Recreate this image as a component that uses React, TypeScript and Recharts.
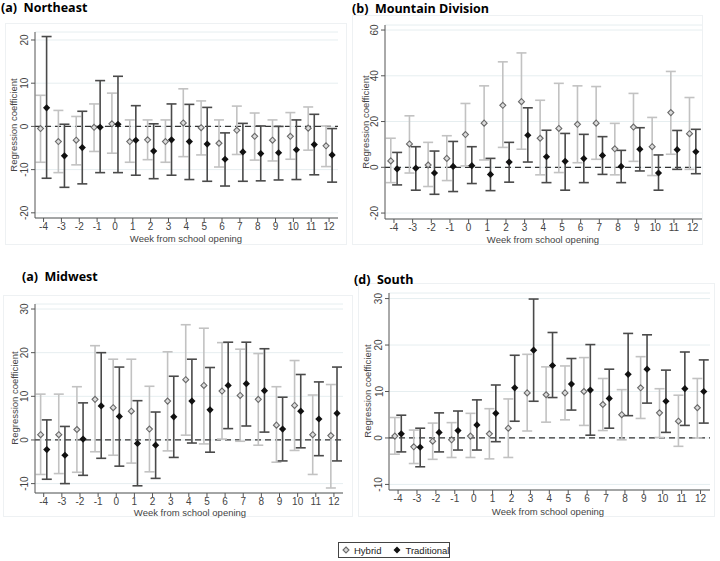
import React from 'react'
import { ScatterChart, Scatter, XAxis, YAxis, CartesianGrid, ReferenceLine, ErrorBar } from 'recharts'

const weeks = [-4, -3, -2, -1, 0, 1, 2, 3, 4, 5, 6, 7, 8, 9, 10, 11, 12]

// (a) Northeast
const neHybrid = [-0.5, -3.5, -3.2, -0.2, 0.6, -3.5, -3.1, -3.5, 0.8, -0.3, -3.9, -0.9, -2.3, -3.2, -2.3, -0.4, -4.5]
const neHybridLo = [-8.3, -10.7, -8.9, -5.8, -6.2, -8.3, -7.7, -8.3, -7.0, -6.6, -9.4, -6.5, -7.8, -8.0, -7.6, -5.5, -9.3]
const neHybridHi = [7.2, 3.7, 2.3, 5.2, 7.7, 1.5, 1.5, 1.5, 8.7, 5.9, 1.5, 4.7, 3.1, 1.5, 3.2, 4.5, 0.1]
const neTrad = [4.3, -6.8, -4.9, -0.2, 0.5, -3.2, -5.7, -3.1, -3.5, -4.1, -7.6, -5.9, -6.3, -6.1, -5.4, -4.2, -6.6]
const neTradLo = [-12.0, -14.1, -13.3, -10.7, -10.7, -11.3, -12.1, -11.3, -12.3, -12.7, -13.8, -12.7, -12.6, -12.4, -12.3, -11.2, -12.9]
const neTradHi = [20.8, 0.5, 3.5, 10.6, 11.6, 4.8, 0.6, 5.2, 5.1, 4.4, -1.5, 0.7, 0.1, 0.0, 1.5, 2.8, -0.5]

// (b) Mountain Division
const mdHybrid = [2.8, 10.2, 1.0, 3.9, 14.3, 19.3, 27.1, 28.7, 12.7, 17.0, 18.8, 19.3, 8.1, 17.6, 9.0, 23.9, 14.7]
const mdHybridLo = [-6.7, -2.5, -8.4, -5.8, 0.6, 3.2, 8.7, 7.9, -3.3, -2.3, 2.0, 3.5, -3.3, 2.6, -3.6, 5.7, -0.9]
const mdHybridHi = [12.7, 22.5, 10.9, 13.8, 27.9, 35.6, 46.1, 50.0, 29.3, 36.7, 35.6, 35.3, 19.2, 32.3, 21.8, 41.9, 30.5]
const mdTrad = [-0.7, -0.4, -2.5, 0.4, 0.7, -3.1, 2.3, 14.0, 4.6, 2.6, 3.8, 5.2, 0.4, 7.9, -2.5, 7.7, 6.8]
const mdTradLo = [-7.7, -10.0, -11.8, -10.6, -7.1, -10.2, -6.5, 2.3, -6.7, -10.0, -6.7, -3.1, -6.7, -1.6, -10.0, -0.9, -2.8]
const mdTradHi = [6.5, 9.0, 7.1, 11.3, 9.0, 3.9, 10.9, 26.0, 16.2, 14.8, 14.4, 13.4, 7.4, 17.3, 5.4, 16.1, 16.6]

// (a) Midwest
const mwHybrid = [1.2, 1.2, 2.4, 9.3, 7.4, 6.6, 2.5, 8.9, 13.8, 12.5, 11.2, 10.2, 9.3, 3.4, 7.9, 1.2, 1.0]
const mwHybridLo = [-7.9, -7.7, -7.4, -2.7, -3.5, -5.3, -7.3, -2.5, 1.1, -0.9, 0.2, -0.3, -1.2, -5.1, -2.4, -7.9, -11.0]
const mwHybridHi = [10.5, 10.5, 12.2, 21.6, 18.5, 18.5, 12.3, 20.2, 26.4, 25.6, 22.3, 20.8, 19.8, 12.2, 18.2, 10.3, 12.7]
const mwTrad = [-2.2, -3.5, 0.2, 7.8, 5.4, -0.8, -1.2, 5.3, 8.9, 6.9, 12.5, 12.9, 11.3, 2.5, 6.6, 4.8, 6.1]
const mwTradLo = [-9.0, -10.0, -8.1, -4.2, -6.0, -10.5, -8.8, -4.0, -0.7, -2.8, 2.6, 3.2, 1.8, -4.8, -1.8, -3.6, -4.8]
const mwTradHi = [4.6, 3.1, 8.5, 20.0, 16.7, 9.0, 6.4, 14.6, 18.5, 16.6, 22.4, 22.4, 20.9, 9.8, 15.0, 13.3, 16.7]

// (d) South
const soHybrid = [0.4, -1.9, -0.7, -0.4, 0.4, 0.9, 2.1, 9.7, 9.3, 9.7, 10.0, 7.2, 5.0, 10.8, 5.4, 3.6, 6.5]
const soHybridLo = [-3.5, -5.5, -4.6, -4.2, -4.2, -4.5, -4.2, 1.5, 3.4, 3.9, 2.7, 1.6, -0.4, 4.2, 0.1, -1.8, 0.0]
const soHybridHi = [4.4, 1.7, 3.2, 3.3, 5.3, 6.3, 8.4, 18.0, 15.3, 15.5, 17.3, 12.8, 10.4, 17.5, 10.6, 9.2, 12.8]
const soTrad = [0.9, -2.0, 1.2, 1.6, 2.8, 5.3, 10.8, 18.9, 15.6, 11.6, 10.3, 8.5, 13.7, 14.8, 7.9, 10.6, 10.0]
const soTradLo = [-3.0, -6.2, -3.0, -2.6, -2.6, -0.8, 3.6, 7.9, 8.7, 6.0, 0.6, 2.1, 4.8, 7.5, 1.2, 2.7, 3.2]
const soTradHi = [4.9, 2.1, 5.4, 5.8, 8.2, 11.4, 17.8, 29.9, 22.7, 17.1, 20.1, 14.8, 22.5, 22.2, 14.6, 18.5, 16.8]

const font = "'Liberation Sans', Arial, sans-serif"
const OFFSET = 0.17

function toRows(vals: number[], lo: number[], hi: number[], shift: number) {
  return weeks.map((w, i) => ({
    x: w + shift,
    y: vals[i],
    err: [vals[i] - lo[i], hi[i] - vals[i]]
  }))
}

const HybridDot = (props: any) => {
  const { cx, cy } = props
  const r = 3
  return (
    <path
      d={`M${cx},${cy - r} L${cx + r},${cy} L${cx},${cy + r} L${cx - r},${cy} Z`}
      fill="#dcdcdc"
      stroke="#6a6a6a"
      strokeWidth={1.1}
    />
  )
}

const TradDot = (props: any) => {
  const { cx, cy } = props
  const r = 3.6
  return <path d={`M${cx},${cy - r} L${cx + r},${cy} L${cx},${cy + r} L${cx - r},${cy} Z`} fill="#111" />
}

const YTick = (props: any) => {
  const { x, y, payload } = props
  return (
    <text
      x={x}
      y={y}
      transform={`rotate(-90 ${x} ${y})`}
      textAnchor="middle"
      dominantBaseline="central"
      fontSize={10}
      fill="#444"
      fontFamily={font}
    >
      {payload.value}
    </text>
  )
}

interface PanelProps {
  title: string
  titlePos: { left: number; top: number }
  box: { left: number; top: number; width: number; height: number }
  margin: { top: number; right: number; left: number; bottom: number }
  yWidth: number
  yDomain: [number, number]
  yTicks: number[]
  hybrid: number[]
  hybridLo: number[]
  hybridHi: number[]
  trad: number[]
  tradLo: number[]
  tradHi: number[]
  yLabelPos: { left: number; top: number }
  xLabelPos: { left: number; top: number }
  frame: { left: number; top: number; width: number; height: number }
}

function Panel(p: PanelProps) {
  const hybridRows = toRows(p.hybrid, p.hybridLo, p.hybridHi, -OFFSET)
  const tradRows = toRows(p.trad, p.tradLo, p.tradHi, OFFSET)
  return (
    <>
      <div
        style={{
          position: 'absolute',
          left: p.frame.left,
          top: p.frame.top,
          width: p.frame.width,
          height: p.frame.height,
          border: '1px solid #eef1f3',
          boxSizing: 'border-box'
        }}
      />
      <div
        style={{
          position: 'absolute',
          left: p.titlePos.left,
          top: p.titlePos.top,
          fontFamily: "'Open Sans', sans-serif",
          fontWeight: 700,
          fontSize: 12.5,
          whiteSpace: 'pre',
          color: '#000',
          lineHeight: '15px'
        }}
      >
        {p.title}
      </div>
      <div style={{ position: 'absolute', left: p.box.left, top: p.box.top }}>
        <ScatterChart width={p.box.width} height={p.box.height} margin={p.margin}>
          <CartesianGrid horizontal vertical={false} stroke="#e6eef0" strokeWidth={1} />
          <XAxis
            type="number"
            dataKey="x"
            domain={[-4.48, 12.5]}
            ticks={weeks}
            allowDataOverflow
            height={30}
            tickSize={4}
            tickMargin={1}
            stroke="#555"
            tick={{ fontSize: 10, fill: '#444', fontFamily: font }}
          />
          <YAxis
            type="number"
            dataKey="y"
            domain={p.yDomain}
            ticks={p.yTicks}
            allowDataOverflow
            width={p.yWidth}
            tickSize={4}
            tickMargin={6}
            stroke="#555"
            tick={<YTick />}
          />
          <ReferenceLine y={0} stroke="#333" strokeDasharray="6 4" strokeWidth={1.2} />
          <Scatter data={hybridRows} shape={<HybridDot />} isAnimationActive={false}>
            <ErrorBar dataKey="err" direction="y" width={5} stroke="#c2c2c2" strokeWidth={1.6} />
          </Scatter>
          <Scatter data={tradRows} shape={<TradDot />} isAnimationActive={false}>
            <ErrorBar dataKey="err" direction="y" width={5} stroke="#4a4a4a" strokeWidth={1.6} />
          </Scatter>
        </ScatterChart>
      </div>
      <div
        style={{
          position: 'absolute',
          left: p.yLabelPos.left,
          top: p.yLabelPos.top,
          transform: 'translate(-50%, -50%) rotate(-90deg)',
          fontFamily: font,
          fontSize: 9.5,
          lineHeight: '11px',
          color: '#444',
          whiteSpace: 'nowrap'
        }}
      >
        Regression coefficient
      </div>
      <div
        style={{
          position: 'absolute',
          left: p.xLabelPos.left,
          top: p.xLabelPos.top,
          transform: 'translate(-50%, -50%)',
          fontFamily: font,
          fontSize: 9.5,
          lineHeight: '11px',
          color: '#444',
          whiteSpace: 'nowrap'
        }}
      >
        Week from school opening
      </div>
    </>
  )
}

export default function App() {
  return (
    <div
      style={{
        position: 'absolute',
        left: 0,
        top: 0,
        width: 720,
        height: 561,
        background: '#fff',
        overflow: 'hidden'
      }}
    >
      <Panel
        title="(a)  Northeast"
        titlePos={{ left: 1, top: 0 }}
        box={{ left: 0, top: 20, width: 350, height: 230 }}
        margin={{ top: 12, right: 12, left: 0, bottom: 2 }}
        yWidth={35}
        yDomain={[-21.2, 21.85]}
        yTicks={[-20, -10, 0, 10, 20]}
        hybrid={neHybrid}
        hybridLo={neHybridLo}
        hybridHi={neHybridHi}
        trad={neTrad}
        tradLo={neTradLo}
        tradHi={neTradHi}
        yLabelPos={{ left: 13, top: 125 }}
        xLabelPos={{ left: 186, top: 238 }}
        frame={{ left: 5, top: 23, width: 342, height: 222 }}
      />
      <Panel
        title="(b)  Mountain Division"
        titlePos={{ left: 352, top: 1 }}
        box={{ left: 355, top: 10, width: 360, height: 240 }}
        margin={{ top: 15, right: 13, left: 0, bottom: 1 }}
        yWidth={30}
        yDomain={[-22.6, 62.2]}
        yTicks={[-20, 0, 20, 40, 60]}
        hybrid={mdHybrid}
        hybridLo={mdHybridLo}
        hybridHi={mdHybridHi}
        trad={mdTrad}
        tradLo={mdTradLo}
        tradHi={mdTradHi}
        yLabelPos={{ left: 365, top: 122 }}
        xLabelPos={{ left: 543, top: 239 }}
        frame={{ left: 352, top: 15, width: 351, height: 230 }}
      />
      <Panel
        title="(a)  Midwest"
        titlePos={{ left: 22, top: 269 }}
        box={{ left: 0, top: 290, width: 352, height: 235 }}
        margin={{ top: 14, right: 9, left: 0, bottom: 2 }}
        yWidth={35}
        yDomain={[-12.15, 31.15]}
        yTicks={[-10, 0, 10, 20, 30]}
        hybrid={mwHybrid}
        hybridLo={mwHybridLo}
        hybridHi={mwHybridHi}
        trad={mwTrad}
        tradLo={mwTradLo}
        tradHi={mwTradHi}
        yLabelPos={{ left: 14, top: 398 }}
        xLabelPos={{ left: 190, top: 512 }}
        frame={{ left: 3, top: 295, width: 350, height: 222 }}
      />
      <Panel
        title="(d)  South"
        titlePos={{ left: 354, top: 272 }}
        box={{ left: 355, top: 280, width: 360, height: 245 }}
        margin={{ top: 13, right: 5, left: 0, bottom: 5 }}
        yWidth={34}
        yDomain={[-11.2, 31.2]}
        yTicks={[-10, 0, 10, 20, 30]}
        hybrid={soHybrid}
        hybridLo={soHybridLo}
        hybridHi={soHybridHi}
        trad={soTrad}
        tradLo={soTradLo}
        tradHi={soTradHi}
        yLabelPos={{ left: 367, top: 391 }}
        xLabelPos={{ left: 548, top: 511 }}
        frame={{ left: 358, top: 283, width: 357, height: 234 }}
      />
      <div
        style={{
          position: 'absolute',
          left: 338,
          top: 542,
          width: 112,
          height: 16,
          border: '1px solid #444',
          boxSizing: 'border-box',
          display: 'flex',
          alignItems: 'center',
          fontFamily: font,
          fontSize: 9.5,
          color: '#222'
        }}
      >
        <svg width={8} height={8} style={{ marginLeft: 3, flexShrink: 0, display: 'block' }}>
          <path d="M4,1 L7,4 L4,7 L1,4 Z" fill="#dcdcdc" stroke="#6a6a6a" strokeWidth={1.1} />
        </svg>
        <span style={{ marginLeft: 4 }}>Hybrid</span>
        <svg width={8} height={8} style={{ marginLeft: 12, flexShrink: 0, display: 'block' }}>
          <path d="M4,0.5 L7.5,4 L4,7.5 L0.5,4 Z" fill="#111" />
        </svg>
        <span style={{ marginLeft: 4 }}>Traditional</span>
      </div>
    </div>
  )
}
